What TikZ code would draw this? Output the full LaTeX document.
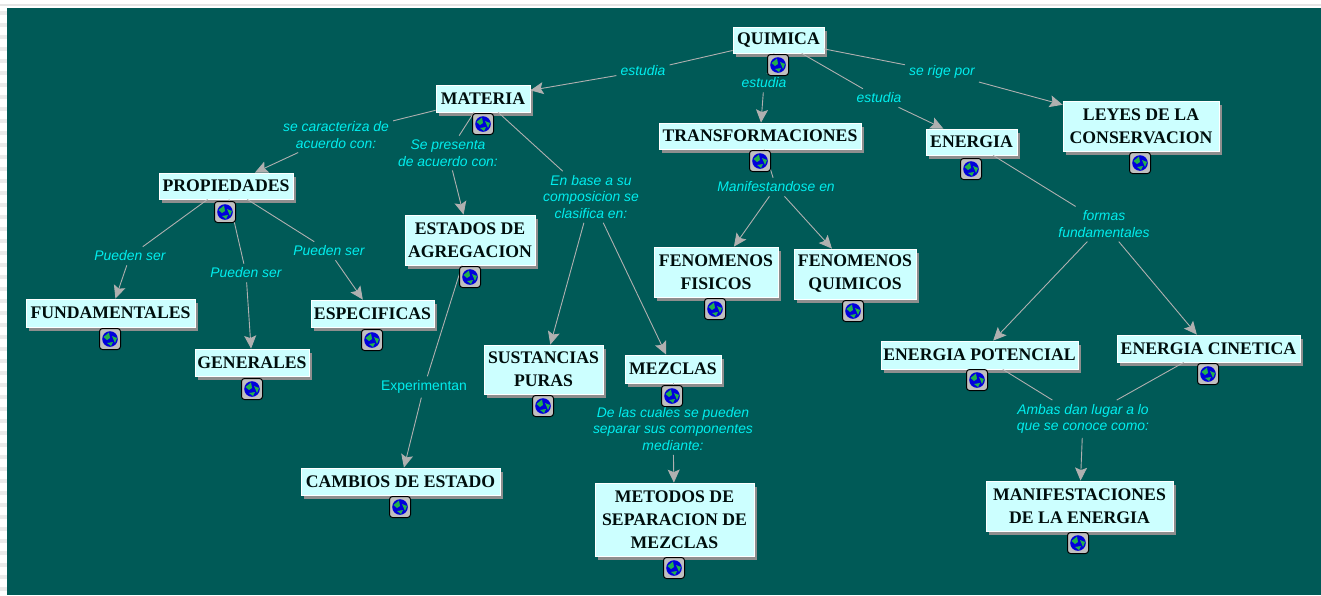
\documentclass[tikz,border=0pt]{standalone}
\usepackage{fontspec}
\setmainfont{Liberation Serif}
\newfontfamily\lblfont{Liberation Sans}
\usetikzlibrary{arrows.meta}
\definecolor{bgteal}{HTML}{005A57}
\definecolor{boxfill}{HTML}{CCFFFF}
\definecolor{shadowgr}{HTML}{8E8E8E}
\definecolor{linkgr}{HTML}{B0B0B0}
\definecolor{lblcyan}{HTML}{00EEEE}
\definecolor{globeblue}{HTML}{0000DC}
\definecolor{globegreen}{HTML}{22B14C}
\tikzset{x=1pt,y=-1pt,
  conceptbox/.style={draw=white,line width=0.8pt,fill=boxfill,inner sep=0pt,align=center,
    font=\fontsize{17.7}{23}\selectfont\bfseries,text=black!85!bgteal},
  linklabel/.style={text=lblcyan,align=center,inner sep=4pt,
    font=\lblfont\fontsize{13.9}{16.5}\selectfont\itshape},
  plainlabel/.style={linklabel,font=\lblfont\fontsize{13.9}{16.5}\selectfont},
  plainlink/.style={draw=linkgr,line width=0.9pt},
  arrowlink/.style={plainlink,-{Stealth[length=13pt,width=12pt,inset=2.5pt]}},
  globeframe/.style={draw=black,line width=1pt,fill=black!25,rounded corners=3pt,
    minimum width=21pt,minimum height=21pt,inner sep=0pt}
}
% name, left, top, right, bottom, text
\newcommand{\conceptnode}[6]{%
  \fill[shadowgr] (#2+3,#3+4) rectangle (#4+3,#5+4);
  \node[conceptbox,minimum width=#4pt-#2pt,minimum height=#5pt-#3pt] (#1) at ({(#2+#4)/2},{(#3+#5)/2}) {#6};}
\newcommand{\globeicon}[3]{%
  \node[globeframe] (#1) at (#2,#3) {};
  \fill[globeblue] (#2,#3) circle (7.8pt);
  \fill[globegreen] (#2-6.5,#3-2) -- (#2-1,#3-6.5) -- (#2,#3-1) -- (#2-3,#3+1) -- cycle;
  \fill[globegreen] (#2+2,#3-3) -- (#2+7,#3-1) -- (#2+5,#3+4) -- cycle;
  \fill[globegreen] (#2-3,#3+4) -- (#2+3,#3+3) -- (#2+1,#3+7) -- cycle;}
\begin{document}
\begin{tikzpicture}
\useasboundingbox (0,0) rectangle (1321,595);
\fill[white] (0,0) rectangle (1321,595);
\fill[black!10] (0,4) rectangle (1321,6);
\foreach \yy in {11,23,...,590} \fill[black!8] (0,\yy) rectangle (7,\yy+4);
\fill[bgteal] (7,8) rectangle (1321,595);

% link labels
\node[linklabel] (lA) at (643,71) {estudia};
\node[linklabel] (lB) at (764,83) {estudia};
\node[linklabel] (lC) at (879,98) {estudia};
\node[linklabel] (lD) at (942,72) {se rige por};
\node[linklabel] (lE) at (336,135) {se caracteriza de\\acuerdo con:};
\node[linklabel] (lF) at (448,153) {Se presenta\\de acuerdo con:};
\node[linklabel] (lG) at (591,197) {En base a su\\composicion se\\clasifica en:};
\node[linklabel] (lH) at (776,187) {Manifestandose en};
\node[linklabel] (lI) at (1104,224) {formas\\fundamentales};
\node[linklabel] (lJ) at (130,256) {Pueden ser};
\node[linklabel] (lK) at (246,273) {Pueden ser};
\node[linklabel] (lL) at (329,251) {Pueden ser};
\node[plainlabel] (lM) at (424,387) {Experimentan};
\node[linklabel] (lN) at (673,429) {De las cuales se pueden\\separar sus componentes\\mediante:};
\node[linklabel] (lO) at (1083,419) {Ambas dan lugar a lo\\que se conoce como:};

% concept boxes
\conceptnode{quimica}{733}{27}{824}{53}{\raisebox{-1.5pt}{QUIMICA}}
\conceptnode{materia}{436}{85}{530}{112}{MATERIA}
\conceptnode{transf}{659}{123}{861}{149}{TRANSFORMACIONES}
\conceptnode{energia}{926}{129}{1017}{155}{ENERGIA}
\conceptnode{leyes}{1063}{101}{1219}{151}{LEYES DE LA\\CONSERVACION}
\conceptnode{prop}{159}{173}{293}{199}{PROPIEDADES}
\conceptnode{estados}{405}{215}{535}{265}{ESTADOS DE\\AGREGACION}
\conceptnode{fund}{26}{299}{195}{327}{FUNDAMENTALES}
\conceptnode{gene}{195}{349}{309}{376}{GENERALES}
\conceptnode{espec}{311}{300}{434}{327}{ESPECIFICAS}
\conceptnode{sust}{484}{345}{603}{394}{SUSTANCIAS\\PURAS}
\conceptnode{mezc}{625}{355}{721}{383}{MEZCLAS}
\conceptnode{ffis}{654}{247}{778}{297}{FENOMENOS\\FISICOS}
\conceptnode{fqui}{794}{249}{916}{299}{FENOMENOS\\QUIMICOS}
\conceptnode{epot}{881}{341}{1078}{369}{ENERGIA POTENCIAL}
\conceptnode{ecin}{1117}{335}{1300}{362}{ENERGIA CINETICA}
\conceptnode{camb}{301}{468}{500}{495}{CAMBIOS DE ESTADO}
\conceptnode{meto}{595}{483}{754}{556}{METODOS DE\\SEPARACION DE\\MEZCLAS}
\conceptnode{mani}{986}{481}{1173}{531}{MANIFESTACIONES\\DE LA ENERGIA}

% connectors
\draw[plainlink] (quimica) -- (lA);
\draw[arrowlink] (lA) -- (materia);
\draw[plainlink] (quimica) -- (lB);
\draw[arrowlink] (lB) -- (transf);
\draw[plainlink] (quimica) -- (lC);
\draw[arrowlink] (lC) -- (energia);
\draw[plainlink] (quimica) -- (lD);
\draw[arrowlink] (lD) -- (leyes);
\draw[plainlink] (materia) -- (lE);
\draw[arrowlink] (lE) -- (prop);
\draw[plainlink] (materia) -- (lF);
\draw[arrowlink] (lF) -- (estados);
\draw[plainlink] (materia) -- (lG);
\draw[arrowlink] (lG) -- (sust);
\draw[arrowlink] (lG) -- (mezc);
\draw[plainlink] (transf) -- (lH);
\draw[arrowlink] (lH) -- (ffis);
\draw[arrowlink] (lH) -- (fqui);
\draw[plainlink] (energia) -- (lI);
\draw[arrowlink] (lI) -- (epot);
\draw[arrowlink] (lI) -- (ecin);
\draw[plainlink] (prop) -- (lJ);
\draw[arrowlink] (lJ) -- (fund);
\draw[plainlink] (prop) -- (lK);
\draw[arrowlink] (lK) -- (gene);
\draw[plainlink] (prop) -- (lL);
\draw[arrowlink] (lL) -- (espec);
\draw[plainlink] (estados) -- (lM);
\draw[arrowlink] (lM) -- (camb);
\draw[plainlink] (mezc) -- (lN);
\draw[arrowlink] (lN) -- (meto);
\draw[plainlink] (epot) -- (lO);
\draw[plainlink] (ecin) -- (lO);
\draw[arrowlink] (lO) -- (mani);

% globes
\globeicon{gA}{778}{65}
\globeicon{gB}{483}{124}
\globeicon{gC}{760}{161}
\globeicon{gD}{971}{169}
\globeicon{gE}{1140}{163}
\globeicon{gF}{225}{212}
\globeicon{gG}{470}{277}
\globeicon{gH}{110}{339}
\globeicon{gI}{252}{389}
\globeicon{gJ}{372}{340}
\globeicon{gK}{543}{406}
\globeicon{gL}{672}{396}
\globeicon{gM}{715}{309}
\globeicon{gN}{853}{311}
\globeicon{gO}{977}{380}
\globeicon{gP}{1208}{374}
\globeicon{gQ}{400}{507}
\globeicon{gR}{674}{568}
\globeicon{gS}{1078}{543}
\end{tikzpicture}
\end{document}
